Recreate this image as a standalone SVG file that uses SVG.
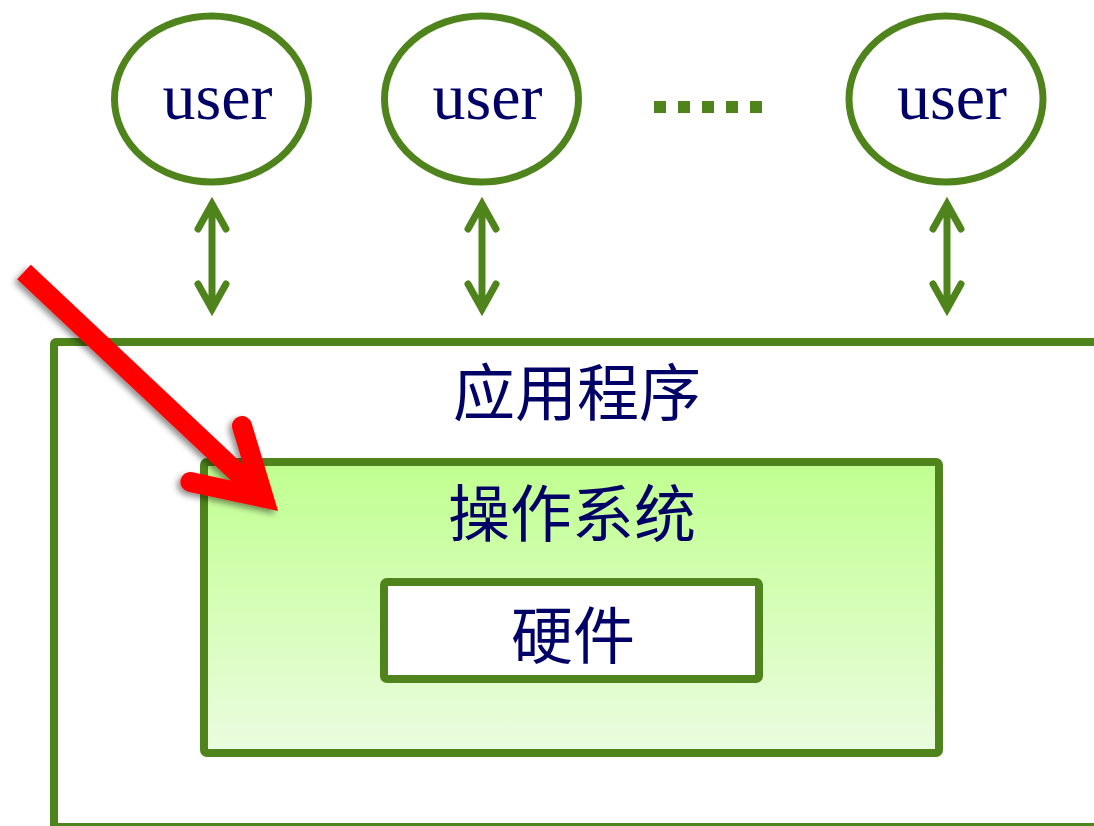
<svg xmlns="http://www.w3.org/2000/svg" width="1094" height="826" viewBox="0 0 1094 826">
<defs>
<style>
.g{fill:none;stroke:#4f831b;stroke-width:7}
.u{font-family:"Liberation Serif","Times New Roman",serif;font-size:66px;fill:#000066;text-anchor:middle}
.c{font-family:"Noto Sans CJK SC","Noto Sans CJK TC",sans-serif;font-size:62px;fill:#000066;text-anchor:middle}
.arr{fill:none;stroke:#4f831b;stroke-width:7;stroke-linecap:round;stroke-linejoin:miter}
.box{stroke:#4f831b;stroke-width:8}
</style>
<linearGradient id="os" x1="0" y1="0" x2="0" y2="1">
<stop offset="0" stop-color="#c0ff8f"/>
<stop offset="1" stop-color="#ebfce0"/>
</linearGradient>
<filter id="sh" x="-20%" y="-20%" width="140%" height="140%">
<feDropShadow dx="-3" dy="3" stdDeviation="3" flood-color="#000" flood-opacity="0.45"/>
</filter>
</defs>
<rect width="1094" height="826" fill="#fff"/>

<g id="app">
<rect x="54" y="342" width="1070" height="485" rx="2" fill="#fff" class="box"/>
<text class="c" x="577" y="416">应用程序</text>
</g>

<g id="os-node">
<rect x="204" y="462" width="735" height="291" rx="3" fill="url(#os)" class="box"/>
<text class="c" x="572" y="537">操作系统</text>
</g>

<g id="hw">
<rect x="384" y="582" width="375" height="97" rx="3" fill="#fff" class="box"/>
<text class="c" x="573" y="659">硬件</text>
</g>

<g id="user1">
<ellipse class="g" cx="211.5" cy="99" rx="97" ry="83"/>
<text class="u" x="217.5" y="119">user</text>
</g>
<g id="user2">
<ellipse class="g" cx="481.5" cy="99" rx="97" ry="83"/>
<text class="u" x="487.5" y="119">user</text>
</g>
<g id="user3">
<ellipse class="g" cx="946" cy="99" rx="97" ry="83"/>
<text class="u" x="952" y="119">user</text>
</g>

<g id="ellipsis" fill="#4f831b">
<rect x="654" y="101" width="12" height="12"/>
<rect x="678" y="101" width="12" height="12"/>
<rect x="702" y="101" width="12" height="12"/>
<rect x="726" y="101" width="12" height="12"/>
<rect x="750" y="101" width="12" height="12"/>
</g>

<g id="connectors">
<g class="arr">
<path d="M212,204 V309 M198,229 L212,204 L226,229 M198,284 L212,309 L226,284"/>
<path d="M482,204 V309 M468,229 L482,204 L496,229 M468,284 L482,309 L496,284"/>
<path d="M947,204 V309 M933,229 L947,204 L961,229 M933,284 L947,309 L961,284"/>
</g>
<g id="red-arrow" filter="url(#sh)" fill="none" stroke="#ff0000" stroke-width="20">
<path d="M24,272 L262,496" stroke-linecap="butt"/>
<path d="M242,426 L263.6,497.7 L190.4,481.9" stroke-linecap="round" stroke-linejoin="miter"/>
</g>
</g>
</svg>
